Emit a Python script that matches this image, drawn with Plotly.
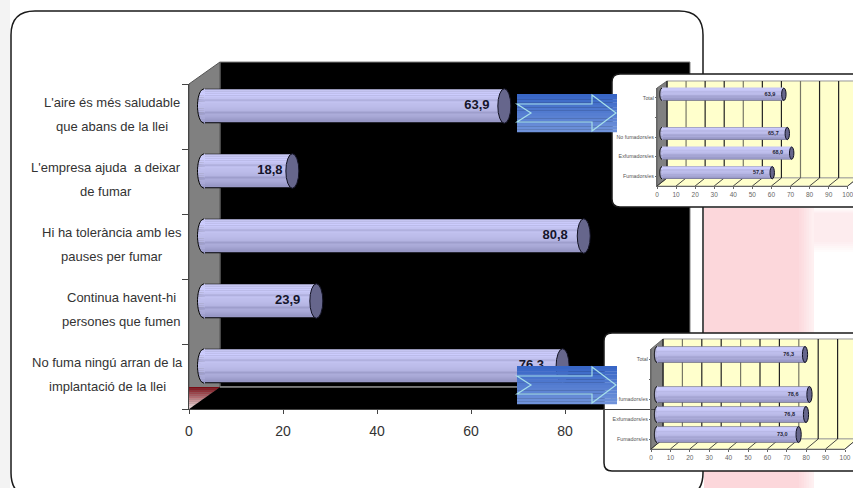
import math
import plotly.graph_objects as go

# ---------- data ----------
main_labels = [
    ["L'aire és més saludable", "que abans de la llei"],
    ["L'empresa ajuda  a deixar", "de fumar"],
    ["Hi ha tolerància amb les", "pauses per fumar"],
    ["Continua havent-hi", "persones que fumen"],
    ["No fuma ningú arran de la", "implantació de la llei"],
]
main_values = [63.9, 18.8, 80.8, 23.9, 76.3]
main_ticks = [0, 20, 40, 60, 80]
inset_labels = ["Fumadors/es", "Exfumadors/es", "No fumadors/es", "", "Total"]
inset1_values = [57.8, 68.0, 65.7, None, 63.9]
inset2_values = [73.0, 76.8, 78.6, None, 76.3]
inset_ticks = [0, 10, 20, 30, 40, 50, 60, 70, 80, 90, 100]

# ---------- style ----------
W, H = 853, 488
STRIPS = ["#c6c6f2", "#cacafa", "#ccccfe", "#c8c8f8", "#c2c2f0", "#b0b0de", "#c2c2f0", "#bebeec",
          "#bcbcea", "#b8b8e6", "#b4b4e2", "#9e9ecc", "#acacda", "#a8a8d6", "#a0a0ce", "#9898c6"]
FONT = "Liberation Sans"


def fx(p):
    return p / W


def fy(p):
    return 1 - p / H


shapes, annotations, traces = [], [], []


def poly(points, fill, line=None, lw=1, layer="below"):
    d = "M" + "L".join(f"{fx(x):.5f},{fy(y):.5f}" for x, y in points) + "Z"
    shapes.append(dict(type="path", path=d, xref="paper", yref="paper", fillcolor=fill,
                       line=dict(color=line or "rgba(0,0,0,0)", width=lw if line else 0), layer=layer))


def rect(x0, y0, x1, y1, fill, layer="below"):
    poly([(x0, y0), (x1, y0), (x1, y1), (x0, y1)], fill, layer=layer)


def seg(x0, y0, x1, y1, color, lw=1, layer="below"):
    shapes.append(dict(type="line", xref="paper", yref="paper", x0=fx(x0), x1=fx(x1), y0=fy(y0), y1=fy(y1),
                       line=dict(color=color, width=lw), layer=layer))


def card(x0, y0, x1, y1, r, lw=1.5):
    pts = (f"M{fx(x0 + r)},{fy(y0)} L{fx(x1 - r)},{fy(y0)} Q{fx(x1)},{fy(y0)} {fx(x1)},{fy(y0 + r)} "
           f"L{fx(x1)},{fy(y1 - r)} Q{fx(x1)},{fy(y1)} {fx(x1 - r)},{fy(y1)} "
           f"L{fx(x0 + r)},{fy(y1)} Q{fx(x0)},{fy(y1)} {fx(x0)},{fy(y1 - r)} "
           f"L{fx(x0)},{fy(y0 + r)} Q{fx(x0)},{fy(y0)} {fx(x0 + r)},{fy(y0)} Z")
    shapes.append(dict(type="path", path=pts, xref="paper", yref="paper", fillcolor="white",
                       line=dict(color="#1a1a1a", width=lw), layer="below"))


def mix(c0, c1, t):
    a = [int(c0[i:i + 2], 16) for i in (1, 3, 5)]
    b = [int(c1[i:i + 2], 16) for i in (1, 3, 5)]
    return "#" + "".join(f"{round(a[i] + (b[i] - a[i]) * t):02x}" for i in range(3))


layout = {}


def axes(n, xpx, ypx, xrange, yrange):
    sx = "" if n == 1 else str(n)
    layout[f"xaxis{sx}"] = dict(domain=[fx(xpx[0]), fx(xpx[1])], range=xrange, anchor=f"y{sx}",
                                showgrid=False, zeroline=False, showline=False, showticklabels=False,
                                ticks="", fixedrange=True)
    layout[f"yaxis{sx}"] = dict(domain=[fy(ypx[1]), fy(ypx[0])], range=yrange, anchor=f"x{sx}",
                                showgrid=False, zeroline=False, showline=False, showticklabels=False,
                                ticks="", fixedrange=True)
    return f"x{sx}", f"y{sx}"


def left_cap(xa, ya, yy, capx, half):
    """Rounded start of a cylinder, sized in pixels and anchored on the axis zero."""
    ns = len(STRIPS)
    edge = lambda v: -capx * math.sqrt(max(0.0, 1 - (v / half) ** 2))
    for i, col in enumerate(STRIPS):
        v0 = half - 2 * half * i / ns
        v1 = half - 2 * half * (i + 1) / ns
        d = f"M1,{v0:.2f}L{edge(v0):.2f},{v0:.2f}L{edge(v1):.2f},{v1:.2f}L1,{v1 - 0.4:.2f}Z"
        shapes.append(dict(type="path", path=d, xref=xa, yref=ya, xsizemode="pixel", ysizemode="pixel",
                           xanchor=0, yanchor=yy, fillcolor=col, line=dict(width=0), layer="above"))
    vs = [half - 2 * half * k / 24 for k in range(25)]
    d = "M" + "L".join(f"{edge(v):.2f},{v:.2f}" for v in vs)
    shapes.append(dict(type="path", path=d, xref=xa, yref=ya, xsizemode="pixel", ysizemode="pixel",
                       xanchor=0, yanchor=yy, line=dict(color="black", width=1), layer="above"))


def bars(n, values, centres, height_units, x0_px, scale, y_bar_px, step, capx, gaps, label_size, label_color):
    """Strip-stacked cylinder bars on axis pair n (axis runs a little below zero so the rounded start is not clipped)."""
    xa, ya = axes(n, (x0_px - 5 * scale, x0_px + 100 * scale), y_bar_px, [-5, 100], [0, 5])
    x = [v for v in values if v is not None]
    y = [c for c, v in zip(centres, values) if v is not None]
    cap_h = height_units * step
    # dark outline bar
    traces.append(go.Bar(x=x, y=y, orientation="h", width=height_units, xaxis=xa, yaxis=ya,
                         marker=dict(color="black", line_width=0), hoverinfo="skip", showlegend=False))
    ns = len(STRIPS)
    inner = height_units * 0.94
    for i, col in enumerate(STRIPS):
        h = inner / ns
        traces.append(go.Bar(x=x, y=y, orientation="h", width=h * 1.3, offset=inner / 2 - (i + 1) * h,
                             xaxis=xa, yaxis=ya, marker=dict(color=col, line_width=0),
                             hoverinfo="skip", showlegend=False))
    for yy, v in zip(y, x):
        left_cap(xa, ya, yy, capx, cap_h / 2)
        shapes.append(dict(type="circle", xref=xa, yref=ya, xsizemode="pixel", ysizemode="pixel",
                           xanchor=v, yanchor=yy, x0=-capx, x1=capx, y0=-cap_h / 2, y1=cap_h / 2,
                           fillcolor="#66668c", line=dict(color="#111122", width=1), layer="above"))
    traces.append(go.Scatter(x=x, y=y, mode="markers+text", xaxis=xa, yaxis=ya,
                             text=[f"{v:.1f}".replace(".", ",") for v in x],
                             textposition="middle left",
                             textfont=dict(family=FONT, size=label_size, color=label_color, weight="bold"),
                             marker=dict(size=[2 * g for g in gaps], opacity=0),
                             hoverinfo="skip", showlegend=False))


# ---------- page background ----------
rect(0, 0, 10, H, "#f3f3f3")
for k in range(6):
    rect(796 + k, 208 + k, 853, 252 - k * 2, mix("#ffffff", "#fdecee", (k + 1) / 6))
for k in range(7):
    x1 = 814 - k * 2.5
    rect(704, 208, x1, H, mix("#fef4f5", "#fcd7db", (k + 1) / 7))

# ---------- main card ----------
card(11, 11, 703, 497, 24)

# main chart box
poly([(220, 62), (690, 62), (690, 387), (220, 387)], "black", "#808080", 1)
poly([(189, 84), (220, 62), (220, 387), (189, 409)], "#808080", "#555555", 1)
poly([(189, 409), (220, 387), (690, 387), (659, 409)], "black")
seg(220, 387, 690, 387, "#8c8c8c", 1.5)
n_steps = 12
for k in range(n_steps):
    y0 = 387 + 22 * k / n_steps
    y1 = 387 + 22 * (k + 1) / n_steps
    xr0 = 220 - 31 * k / n_steps
    xr1 = 220 - 31 * (k + 1) / n_steps
    poly([(189, y0), (xr0, y0), (xr1, y1), (189, y1)], mix("#7a0c14", "#f2dedf", k / (n_steps - 1)))

# front axes for the main chart
xa, ya = axes(1, (189, 659), (84, 409), [0, 100], [0, 5])
layout["xaxis"].update(showline=True, linecolor="#444444", ticks="outside", ticklen=4, tickcolor="#444444",
                       showticklabels=True, tickvals=main_ticks, ticktext=[str(t) for t in main_ticks],
                       ticklabelstandoff=5, tickfont=dict(family=FONT, size=14, color="#333333"))
layout["yaxis"].update(showline=True, linecolor="#444444", ticks="outside", ticklen=6, tickcolor="#444444",
                       tickvals=[0, 1, 2, 3, 4, 5])
main_centres = [4.5, 3.5, 2.5, 1.5, 0.5]
traces.append(go.Scatter(x=main_values, y=main_centres, mode="markers", marker=dict(opacity=0),
                         hoverinfo="skip", showlegend=False))

centres_x = [112, 106, 112, 121, 107]
for lines, c, cx in zip(main_labels, main_centres, centres_x):
    for j, line in enumerate(lines):
        annotations.append(dict(text=line, xref="paper", yref="y", x=fx(cx), y=c, xanchor="center",
                                yanchor="middle", yshift=(14 if j == 0 else -10), showarrow=False,
                                font=dict(family=FONT, size=13, color="#333333")))

bars(2, main_values, main_centres, 34.5 / 65, 204, 4.7, (73.5, 398.5), 65, 6.5,
     [11, 7, 12, 12, 14], 13, "#15152a")


# ---------- insets ----------
def inset(n, cardbox, wall, front, scale, x0_front, x0_bar, ybar, barh, step, capx, values, label_offset):
    card(*cardbox, 8, 1.5)
    bx0, by0, by1 = wall
    fy0, fy1 = front
    depth = bx0 - x0_front
    right = bx0 + 100 * scale
    poly([(bx0, by0), (right, by0), (right, by1), (bx0, by1)], "#ffffcc", "#999999", 1)
    poly([(x0_front, fy1), (bx0, by1), (right, by1), (right - depth, fy1)], "#ffffcc", "#999999", 0.8)
    poly([(x0_front, fy0), (bx0, by0), (bx0, by1), (x0_front, fy1)], "#808080", "#555555", 0.8)
    for i, t in enumerate(inset_ticks):
        col = "#222222" if i % 3 != 1 else "#777766"
        gx = bx0 + t * scale
        seg(gx, by0, gx, by1, col, 1.2)
        fxp = x0_front + t * scale
        seg(fxp, fy1, gx, by1, "#333333", 0.9)
    fa_x, fa_y = axes(n, (x0_front, x0_front + 100 * scale), (fy0, fy1), [0, 100], [0, 5])
    ax = layout[f"xaxis{n}"]
    ay = layout[f"yaxis{n}"]
    ax.update(showline=True, linecolor="#666666", ticks="outside", ticklen=2, tickcolor="#666666",
              showticklabels=True, tickvals=inset_ticks, ticktext=[str(t) for t in inset_ticks],
              ticklabeloverflow="allow", tickfont=dict(family=FONT, size=6.5, color="#666666"))
    ay.update(showline=True, linecolor="#666666", ticks="outside", ticklen=1, tickcolor="#666666",
              showticklabels=True, tickmode="array", tickvals=[0.5, 1.5, 2.5, 3.5, 4.5], ticktext=inset_labels,
              tickfont=dict(family=FONT, size=5.3, color="#555555"))
    cs = [0.5, 1.5, 2.5, 3.5, 4.5]
    traces.append(go.Scatter(x=[v for v in values if v is not None], y=[c for c, v in zip(cs, values) if v is not None],
                             mode="markers", marker=dict(opacity=0), xaxis=fa_x, yaxis=fa_y,
                             hoverinfo="skip", showlegend=False))
    bars(n + 1, values, cs, barh / step, x0_bar, scale, ybar, step, capx,
         [label_offset] * 5, 5.5, "#222233")


inset(3, (612, 74, 875, 207), (667, 81, 178), (88, 186), 1.907, 657, 662, (84.5, 182.5), 12.3, 19.6, 2.2,
      inset1_values, 6)
inset(5, (604, 333, 875, 471), (663, 339, 439), (349, 449), 1.94, 651, 657, (344.5, 444.5), 16, 20, 2.6,
      inset2_values, 8)

# ---------- arrows (on top of everything) ----------
for ay0 in (94, 366):
    steps = 14
    for k in range(steps):
        rect(517, ay0 + 38 * k / steps, 617, ay0 + 38 * (k + 1) / steps + 0.3,
             mix("#3866c6", "#6f92da", k / (steps - 1)), layer="above")
    poly([(517, ay0 + 10), (592, ay0 + 10), (592, ay0 + 1), (616, ay0 + 19), (592, ay0 + 37), (592, ay0 + 28),
          (517, ay0 + 28), (531, ay0 + 19)], "rgba(0,0,0,0)", "#a6e0ea", 1.2, layer="above")

fig = go.Figure(traces)
fig.update_layout(width=W, height=H, margin=dict(l=0, r=0, t=0, b=0, autoexpand=False), paper_bgcolor="white",
                  plot_bgcolor="rgba(0,0,0,0)", barmode="overlay", showlegend=False,
                  shapes=shapes, annotations=annotations, **layout)
fig.write_html("out.html", config={"displayModeBar": False},
               post_script="document.body.style.margin='0';document.body.style.overflow='hidden';")
